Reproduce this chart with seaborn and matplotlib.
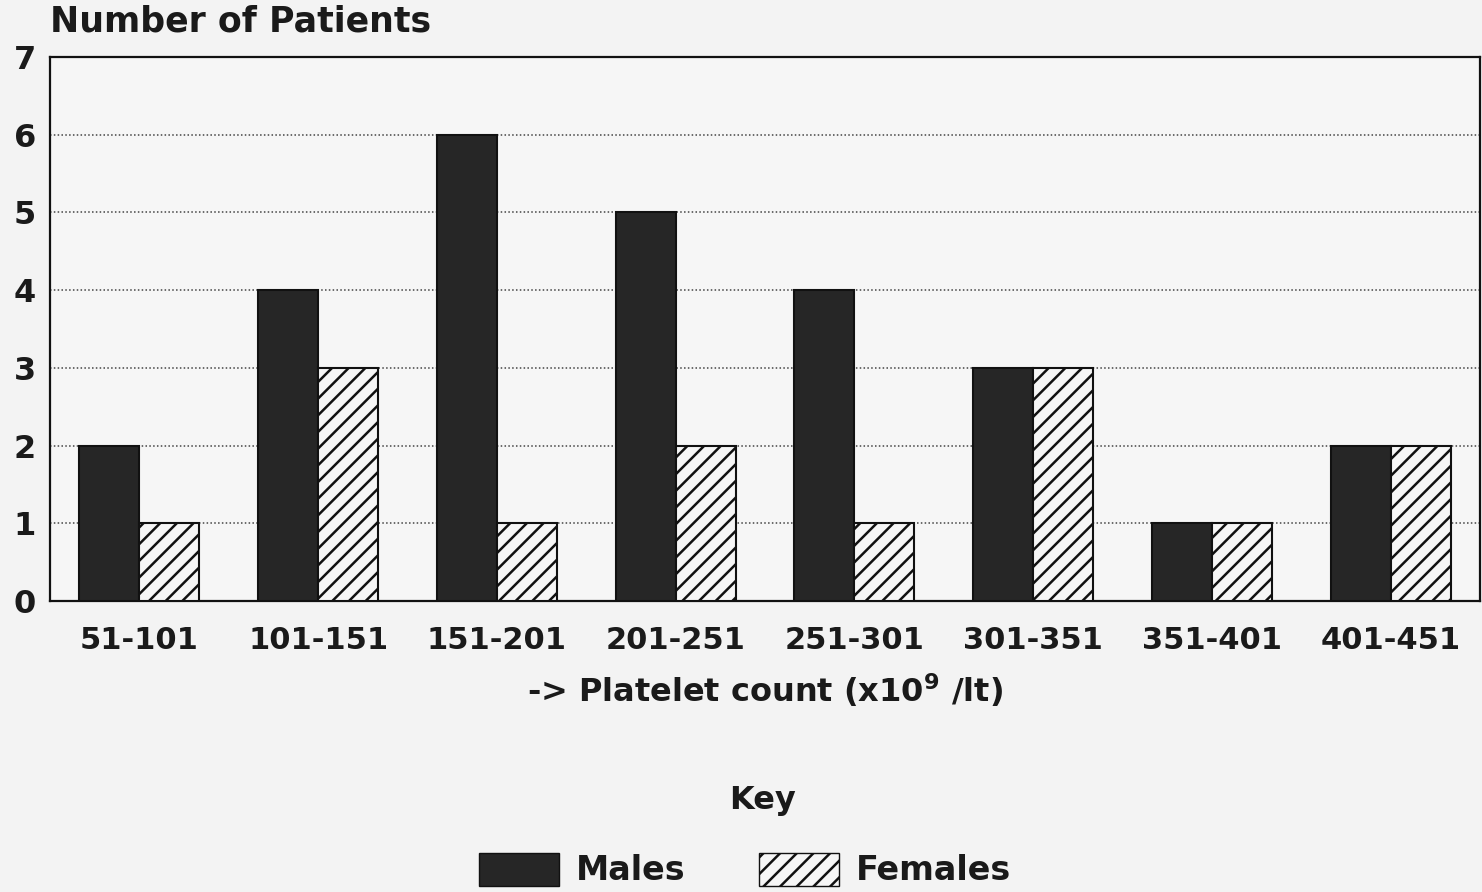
import matplotlib
matplotlib.use("Agg")
import matplotlib.pyplot as plt
import seaborn as sns
import pandas as pd
from matplotlib.patches import Patch

categories = ["51-101", "101-151", "151-201", "201-251", "251-301", "301-351", "351-401", "401-451"]
males = [2, 4, 6, 5, 4, 3, 1, 2]
females = [1, 3, 1, 2, 1, 3, 1, 2]
series = ["Males", "Females"]

df = pd.DataFrame({
    "range": categories * 2,
    "count": males + females,
    "sex": [series[0]] * len(categories) + [series[1]] * len(categories),
})

sns.set_style("white")
plt.rcParams["font.family"] = ["DejaVu Sans"]
plt.rcParams["font.weight"] = "bold"
plt.rcParams["mathtext.fontset"] = "dejavusans"
plt.rcParams["hatch.linewidth"] = 1.8
plt.rcParams["hatch.color"] = "#1a1a1a"

BG = "#f3f3f3"
fig = plt.figure(figsize=(14.82, 8.92), dpi=100, facecolor=BG)
ax = fig.add_axes([50 / 1482, 1 - 601 / 892, 1 - 52 / 1482, (601 - 57) / 892])
ax.set_facecolor("#f6f6f6")

sns.barplot(data=df, x="range", y="count", hue="sex", hue_order=series,
            palette={"Males": "#262626", "Females": "#f6f6f6"},
            width=0.67, edgecolor="#111111", linewidth=1.5, ax=ax,
            legend=False, zorder=3)

nm = len(categories)
for i, p in enumerate(ax.patches):
    if nm <= i < 2 * nm:
        p.set_hatch("//")

ax.set_xlim(-0.5, len(categories) - 0.5)
ax.set_ylim(0, 7)
ax.set_yticks(range(0, 8))
ax.yaxis.grid(True, linestyle=(0, (1, 1.5)), color="#444444", linewidth=1.1, zorder=0)
ax.set_axisbelow(True)
for s in ax.spines.values():
    s.set_color("#111111")
    s.set_linewidth(1.6)

ax.tick_params(axis="y", direction="in", length=12, width=1.5, labelsize=23, pad=10, colors="#1a1a1a")
ax.tick_params(axis="x", length=0, labelsize=22, pad=18, colors="#1a1a1a")
for lab in ax.get_xticklabels() + ax.get_yticklabels():
    lab.set_fontweight("bold")

ax.set_xlabel(r"-> Platelet count (x10$^{\mathbf{9}}$ /lt)", fontsize=23, fontweight="bold",
              labelpad=12, color="#1a1a1a")
ax.set_ylabel("")
fig.text(50 / 1482, 1 - 22 / 892, "Number of Patients", fontsize=25, fontweight="bold",
         va="center", ha="left", color="#1a1a1a")

fig.text(763 / 1482, 1 - 800 / 892, "Key", fontsize=23, fontweight="bold",
         va="center", ha="center", color="#1a1a1a")

handles = [Patch(facecolor="#262626", edgecolor="#111111", label=series[0]),
           Patch(facecolor="#f6f6f6", edgecolor="#111111", hatch="//", label=series[1])]
leg = fig.legend(handles=handles, loc="center", bbox_to_anchor=(745 / 1482, 1 - 870 / 892),
                 ncol=2, frameon=False, fontsize=24,
                 handlelength=2.4, handleheight=1.15, columnspacing=2.2, handletextpad=0.5,
                 borderaxespad=0, borderpad=0)
for t in leg.get_texts():
    t.set_fontweight("bold")
    t.set_color("#1a1a1a")

fig.savefig("out.png", dpi=100, facecolor=BG)
